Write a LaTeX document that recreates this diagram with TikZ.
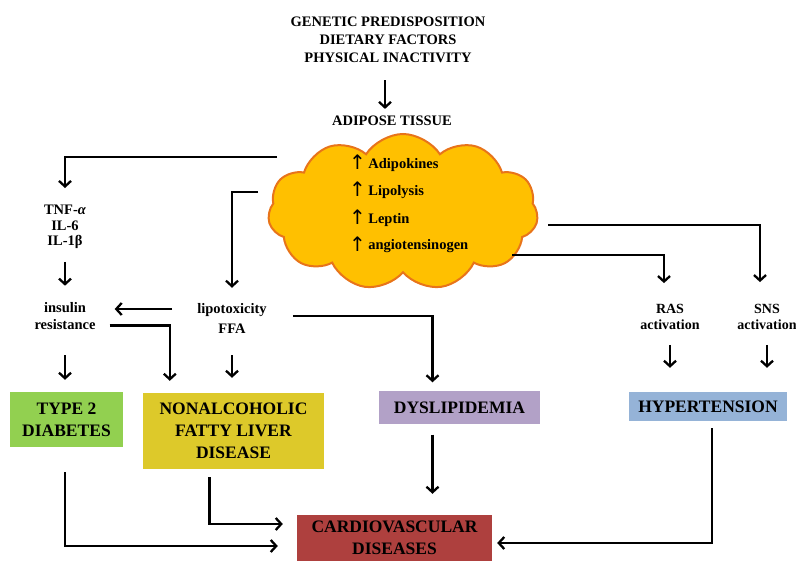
\documentclass[tikz,border=0pt]{standalone}
\usepackage{fontspec}
\setmainfont{Liberation Serif}
\newfontfamily\arrowfont{DejaVu Sans}
\usetikzlibrary{arrows.meta,shapes.symbols}
\definecolor{cgreen}{HTML}{92D050}
\definecolor{cyellow}{HTML}{DDC92A}
\definecolor{cpurple}{HTML}{B2A1C7}
\definecolor{cblue}{HTML}{95B3D7}
\definecolor{cred}{HTML}{AE403E}
\definecolor{cloudfill}{HTML}{FFC000}
\definecolor{cloudedge}{HTML}{E8741A}
\newcommand{\uparr}{\raisebox{-1.5pt}{\arrowfont\fontsize{20}{20}\selectfont\mdseries ↑}\,}
\begin{document}
\begin{tikzpicture}[x=1pt,y=-1pt,
  lbl/.style={font=\fontsize{14.5}{16}\selectfont\bfseries, align=center, inner sep=0pt},
  boxtext/.style={font=\fontsize{17.5}{22}\selectfont\bfseries, align=center, inner sep=0pt},
  arr/.style={line width=2.3pt, -{Straight Barb[length=5.5pt,width=12pt,line width=2.3pt]}}]
\useasboundingbox (0,0) rectangle (796,561);

% top text
\node[lbl, font=\fontsize{14.5}{18}\selectfont\bfseries] (gen) at (388,40) {GENETIC PREDISPOSITION\\DIETARY FACTORS\\PHYSICAL INACTIVITY};
\node[lbl] (adi) at (392,121) {ADIPOSE TISSUE};

% cloud
\node[cloud, cloud puffs=11, cloud puff arc=115, cloud ignores aspect, minimum width=270, minimum height=156,
      fill=cloudfill, draw=cloudedge, line width=2pt, inner sep=0pt] (cloud) at (403,212) {};
\node[lbl, anchor=west] (t1) at (349,163) {\uparr Adipokines};
\node[lbl, anchor=west] (t2) at (349,190) {\uparr Lipolysis};
\node[lbl, anchor=west] (t3) at (349,218) {\uparr Leptin};
\node[lbl, anchor=west] (t4) at (349,245) {\uparr angiotensinogen};

\coordinate (c1) at (277,157);
\coordinate (c2) at (258,192);
\coordinate (c3) at (548,225);
\coordinate (c4) at (512,255);

% left texts
\node[lbl, font=\fontsize{14.5}{15.5}\selectfont\bfseries] (tnf) at (65,227) {TNF-{\itshape α}\\IL-6\\IL-1β};
\node[lbl, font=\fontsize{14.5}{17}\selectfont\bfseries] (ins) at (65,316.5) {insulin\\resistance};
\node[lbl, font=\fontsize{14.5}{20}\selectfont\bfseries] (lip) at (232,318) {lipotoxicity\\FFA};
\node[lbl, font=\fontsize{14}{16}\selectfont\bfseries] (ras) at (670,317) {RAS\\activation};
\node[lbl, font=\fontsize{14}{16}\selectfont\bfseries] (sns) at (767,317) {SNS\\activation};

% boxes
\node[boxtext, fill=cgreen, minimum width=113, minimum height=55] (t2d) at (66.5,419.5) {TYPE 2\\DIABETES};
\node[boxtext, fill=cyellow, minimum width=181, minimum height=76] (naf) at (233.5,431) {NONALCOHOLIC\\FATTY LIVER\\DISEASE};
\node[boxtext, fill=cpurple, minimum width=161, minimum height=33] (dys) at (459.5,408) {DYSLIPIDEMIA};
\node[boxtext, fill=cblue, minimum width=158, minimum height=29] (hyp) at (708,406.5) {HYPERTENSION};
\node[boxtext, fill=cred, minimum width=195, minimum height=46] (cvd) at (394.5,538) {CARDIOVASCULAR\\DISEASES};

% connectors
\draw[arr, shorten <=17, shorten >=7] (gen.south -| 385,0) -- (adi.north -| 385,0);
\draw[arr, shorten >=17] (c1) -| (tnf.north);
\draw[arr, shorten <=13, shorten >=17] (tnf.south) -- (ins.north);
\draw[arr, shorten <=25, shorten >=19] ([yshift=9pt]lip.west) -- ([yshift=9pt]lip.west -| ins.east);
\draw[arr, shorten <=14, shorten >=12] ([yshift=-9pt]ins.east) -| ([xshift=27pt]naf.north west);
\draw[arr, shorten >=15] (c2) -| (lip.north);
\draw[arr, shorten <=26, shorten >=9] ([yshift=2pt]lip.east) -| ([xshift=-27pt]dys.north);
\draw[arr, shorten <=22, shorten >=15] (lip.south) -- (naf.north -| lip.south);
\draw[arr, shorten <=25, shorten >=12] (ins.south -| 65,0) -- (t2d.north -| 65,0);
\draw[arr, shorten >=22] (c3) -| ([xshift=-7pt]sns.north);
\draw[arr, shorten >=21] (c4) -| ([xshift=-6pt]ras.north);
\draw[arr, shorten <=15, shorten >=24] (ras.south) -- (hyp.north -| ras.south);
\draw[arr, shorten <=15, shorten >=24] (sns.south) -- (hyp.north -| sns.south);
\draw[arr, shorten <=10, shorten >=21] ([xshift=-27pt]dys.south) -- ([xshift=-27pt]dys.south |- cvd.north);
\draw[arr, shorten <=7, shorten >=5] ([xshift=4pt]hyp.south) |- ([yshift=-5pt]cvd.east);
\draw[arr, shorten <=8, shorten >=14] ([xshift=-24pt]naf.south) |- ([yshift=14pt]cvd.west);
\draw[arr, shorten <=25, shorten >=19] ([xshift=-1.5pt]t2d.south) |- ([yshift=-8pt]cvd.west);
\end{tikzpicture}
\end{document}
